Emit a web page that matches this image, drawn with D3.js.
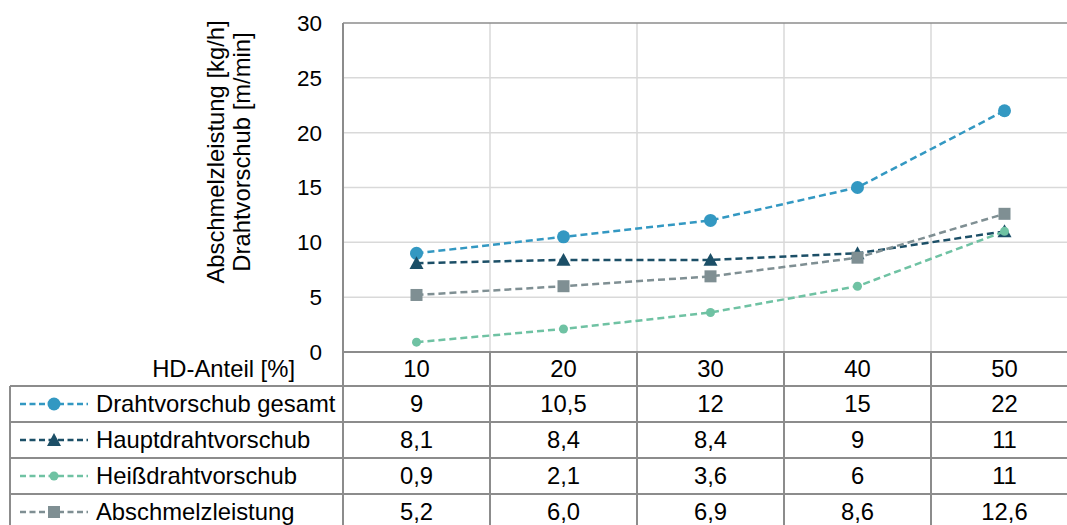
<!DOCTYPE html>
<html>
<head>
<meta charset="utf-8">
<script src="https://cdn.jsdelivr.net/npm/d3@7"></script>
<style>
  body { margin: 0; background: #fff; }
  svg { display: block; font-family: "Liberation Sans", Arial, sans-serif; }
</style>
</head>
<body>
<svg id="chart" width="1067" height="525"></svg>
<script>
const categories = ["10", "20", "30", "40", "50"];
const yTicks = [0, 5, 10, 15, 20, 25, 30];

const drahtGesamt = [9, 10.5, 12, 15, 22];
const hauptDraht = [8.1, 8.4, 8.4, 9, 11];
const heissDraht = [0.9, 2.1, 3.6, 6, 11];
const abschmelz = [5.2, 6.0, 6.9, 8.6, 12.6];

const seriesNames = ["Drahtvorschub gesamt", "Hauptdrahtvorschub", "Heißdrahtvorschub", "Abschmelzleistung"];
const tableLabels = [
  ["9", "10,5", "12", "15", "22"],
  ["8,1", "8,4", "8,4", "9", "11"],
  ["0,9", "2,1", "3,6", "6", "11"],
  ["5,2", "6,0", "6,9", "8,6", "12,6"]
];

let series = [
  { name: seriesNames[0], values: drahtGesamt, color: "#3398c2", marker: "circle", size: 6.5 },
  { name: seriesNames[1], values: hauptDraht, color: "#1c4f67", marker: "triangle", size: 7 },
  { name: seriesNames[2], values: heissDraht, color: "#6fc2a3", marker: "circle", size: 4.5 },
  { name: seriesNames[3], values: abschmelz, color: "#7f8f93", marker: "square", size: 6 }
];

let svg = d3.select("#chart");

const plotLeft = 343, plotTop = 23, plotBottom = 352, colW = 147;
const tableLeft = 10, headerBottom = 386, rowH = 36;
const fs = 23.8;
const dark = "#8c8c8c", light = "#d9d9d9";

let x = d3.scaleBand().domain(categories).range([plotLeft, plotLeft + colW * categories.length]);
let y = d3.scaleLinear().domain([0, 30]).range([plotBottom, plotTop]);
let rightEdge = plotLeft + colW * categories.length;

// gridlines
svg.append("g").selectAll("line")
  .data(yTicks.filter(d => d > 0 && d < 30))
  .enter().append("line")
  .attr("x1", plotLeft).attr("x2", rightEdge)
  .attr("y1", d => y(d)).attr("y2", d => y(d))
  .attr("stroke", light).attr("stroke-width", 1.5);

svg.append("g").selectAll("line")
  .data(categories.slice(1))
  .enter().append("line")
  .attr("x1", d => x(d)).attr("x2", d => x(d))
  .attr("y1", plotTop).attr("y2", plotBottom)
  .attr("stroke", light).attr("stroke-width", 1.5);

// top border
svg.append("line")
  .attr("x1", plotLeft).attr("x2", rightEdge)
  .attr("y1", y(30)).attr("y2", y(30))
  .attr("stroke", dark).attr("stroke-width", 1.5);

// y tick labels
svg.append("g").selectAll("text")
  .data(yTicks)
  .enter().append("text")
  .attr("x", 322)
  .attr("y", d => y(d))
  .attr("dy", "0.35em")
  .attr("text-anchor", "end")
  .attr("font-size", "22.5px")
  .attr("fill", "#000")
  .text(d => d);

// y title
let yTitle = svg.append("g").attr("transform", "translate(0,152) rotate(-90)");
yTitle.append("text").attr("x", 0).attr("y", 216).attr("dy", "0.35em")
  .attr("text-anchor", "middle").attr("font-size", "23.8px").text("Abschmelzleistung [kg/h]");
yTitle.append("text").attr("x", 0).attr("y", 242).attr("dy", "0.35em")
  .attr("text-anchor", "middle").attr("font-size", "23.8px").text("Drahtvorschub [m/min]");

// header label
svg.append("text")
  .attr("x", 295).attr("y", 369).attr("dy", "0.35em")
  .attr("text-anchor", "end").attr("font-size", fs + "px")
  .text("HD-Anteil [%]");

// table lines
let tbl = svg.append("g").attr("stroke", dark).attr("stroke-width", 2);
tbl.append("line").attr("x1", plotLeft).attr("x2", rightEdge).attr("y1", plotBottom).attr("y2", plotBottom);
d3.range(seriesNames.length + 1).forEach(i => {
  let yy = headerBottom + i * rowH;
  tbl.append("line").attr("x1", tableLeft).attr("x2", rightEdge).attr("y1", yy).attr("y2", yy);
});
tbl.append("line").attr("x1", tableLeft).attr("x2", tableLeft).attr("y1", headerBottom).attr("y2", 530);
tbl.append("line").attr("x1", plotLeft).attr("x2", plotLeft).attr("y1", plotTop).attr("y2", 530);
categories.slice(1).forEach(c => {
  tbl.append("line").attr("x1", x(c)).attr("x2", x(c)).attr("y1", plotBottom).attr("y2", 530);
});

// header category labels
svg.append("g").selectAll("text")
  .data(categories)
  .enter().append("text")
  .attr("x", d => x(d) + x.bandwidth() / 2)
  .attr("y", (plotBottom + headerBottom) / 2)
  .attr("dy", "0.35em")
  .attr("text-anchor", "middle")
  .attr("font-size", fs + "px")
  .text(d => d);

let drawMarker = (g, s, cx, cy) => {
  if (s.marker === "circle") {
    g.append("circle").attr("cx", cx).attr("cy", cy).attr("r", s.size).attr("fill", s.color);
  } else if (s.marker === "square") {
    g.append("rect").attr("x", cx - s.size).attr("y", cy - s.size)
      .attr("width", s.size * 2).attr("height", s.size * 2).attr("fill", s.color);
  } else {
    let r = s.size;
    g.append("path")
      .attr("d", `M${cx},${cy - r} L${cx + r},${cy + r * 0.85} L${cx - r},${cy + r * 0.85} Z`)
      .attr("fill", s.color);
  }
};

// table rows: legend keys + values
series.forEach((s, i) => {
  let cy = headerBottom + i * rowH + rowH / 2;
  let g = svg.append("g");
  g.append("line")
    .attr("x1", 20).attr("x2", 88).attr("y1", cy).attr("y2", cy)
    .attr("stroke", s.color).attr("stroke-width", 2.5).attr("stroke-dasharray", "6,3.5");
  drawMarker(g, s, 54, cy);
  g.append("text").attr("x", 96).attr("y", cy).attr("dy", "0.35em")
    .attr("font-size", fs + "px").text(s.name);
  g.selectAll("text.val")
    .data(tableLabels[i])
    .enter().append("text")
    .attr("class", "val")
    .attr("x", (d, j) => x(categories[j]) + x.bandwidth() / 2)
    .attr("y", cy).attr("dy", "0.35em")
    .attr("text-anchor", "middle")
    .attr("font-size", fs + "px")
    .text(d => d);
});

// lines and markers
let line = d3.line()
  .x((d, i) => x(categories[i]) + x.bandwidth() / 2)
  .y(d => y(d));

series.forEach(s => {
  let g = svg.append("g");
  g.append("path")
    .attr("d", line(s.values))
    .attr("fill", "none")
    .attr("stroke", s.color)
    .attr("stroke-width", 2.5)
    .attr("stroke-dasharray", "7,4");
  s.values.forEach((v, i) => {
    drawMarker(g, s, x(categories[i]) + x.bandwidth() / 2, y(v));
  });
});
</script>
</body>
</html>
